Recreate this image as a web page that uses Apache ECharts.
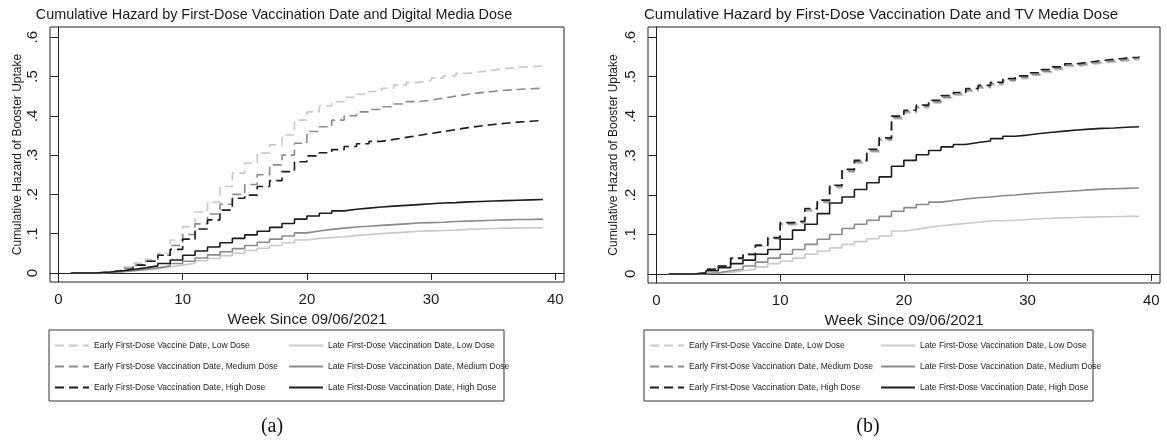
<!DOCTYPE html>
<html><head><meta charset="utf-8">
<script src="https://cdn.jsdelivr.net/npm/echarts@6/dist/echarts.min.js"></script>
<style>html,body{margin:0;padding:0;background:#fff}#c{width:1167px;height:440px}</style>
</head><body><div id="c"></div>
<script>
// ---- data ----
const weeks = [1,2,3,4,5,6,7,8,9,10,11,12,13,14,15,16,17,18,19,20,21,22,23,24,25,26,27,28,29,30,31,32,33,34,35,36,37,38,39];
const xTicks = [0,10,20,30,40];
const yTicks = [0,0.1,0.2,0.3,0.4,0.5,0.6];
const titleA = 'Cumulative Hazard by First-Dose Vaccination Date and Digital Media Dose';
const titleB = 'Cumulative Hazard by First-Dose Vaccination Date and TV Media Dose';
const xName = 'Week Since 09/06/2021';
const yName = 'Cumulative Hazard of Booster Uptake';
const names = [
  'Early First-Dose Vaccine Date, Low Dose',
  'Early First-Dose Vaccination Date, Medium Dose',
  'Early First-Dose Vaccination Date, High Dose',
  'Late First-Dose Vaccination Date, Low Dose',
  'Late First-Dose Vaccination Date, Medium Dose',
  'Late First-Dose Vaccination Date, High Dose'
];
// Panel (a): Digital media dose
const aEarlyLow  = [0,0,0.002,0.006,0.015,0.025,0.035,0.05,0.084,0.118,0.155,0.18,0.22,0.254,0.28,0.305,0.326,0.351,0.389,0.41,0.425,0.436,0.447,0.455,0.462,0.47,0.478,0.485,0.49,0.496,0.502,0.508,0.512,0.516,0.52,0.523,0.525,0.527,0.527];
const aEarlyMed  = [0,0,0.002,0.005,0.012,0.02,0.03,0.045,0.07,0.098,0.125,0.15,0.175,0.2,0.225,0.25,0.275,0.3,0.33,0.36,0.372,0.389,0.4,0.41,0.416,0.423,0.43,0.436,0.44,0.445,0.45,0.455,0.459,0.462,0.465,0.467,0.469,0.47,0.47];
const aEarlyHigh = [0,0,0.002,0.005,0.01,0.02,0.03,0.045,0.06,0.086,0.112,0.135,0.16,0.19,0.198,0.22,0.235,0.258,0.283,0.298,0.306,0.314,0.322,0.329,0.335,0.34,0.345,0.35,0.355,0.36,0.365,0.37,0.374,0.378,0.381,0.384,0.386,0.388,0.388];
const aLateLow   = [0,0,0.001,0.002,0.005,0.008,0.011,0.015,0.02,0.025,0.031,0.037,0.044,0.05,0.057,0.063,0.07,0.077,0.084,0.088,0.09,0.092,0.095,0.098,0.1,0.102,0.104,0.106,0.107,0.108,0.109,0.111,0.112,0.113,0.114,0.114,0.115,0.115,0.115];
const aLateMed   = [0,0,0.001,0.003,0.006,0.009,0.013,0.018,0.024,0.03,0.038,0.046,0.054,0.062,0.07,0.078,0.086,0.094,0.102,0.107,0.111,0.114,0.117,0.119,0.121,0.123,0.125,0.127,0.128,0.129,0.131,0.132,0.133,0.134,0.135,0.136,0.136,0.137,0.137];
const aLateHigh  = [0,0,0.002,0.005,0.009,0.013,0.018,0.024,0.033,0.045,0.056,0.066,0.077,0.088,0.097,0.106,0.116,0.126,0.137,0.145,0.152,0.158,0.162,0.165,0.168,0.17,0.172,0.174,0.176,0.178,0.179,0.181,0.182,0.183,0.184,0.185,0.186,0.187,0.187];
// Panel (b): TV media dose
const bEarlyLow  = [0,0,0.002,0.011,0.019,0.038,0.048,0.07,0.088,0.124,0.128,0.159,0.18,0.218,0.258,0.281,0.309,0.338,0.393,0.408,0.421,0.433,0.445,0.453,0.463,0.471,0.479,0.488,0.495,0.503,0.511,0.518,0.526,0.53,0.534,0.537,0.54,0.543,0.545];
const bEarlyMed  = [0,0,0.002,0.012,0.02,0.039,0.049,0.071,0.09,0.127,0.131,0.162,0.183,0.221,0.261,0.284,0.312,0.341,0.396,0.411,0.424,0.436,0.448,0.456,0.466,0.474,0.482,0.491,0.498,0.506,0.514,0.521,0.529,0.533,0.537,0.54,0.543,0.546,0.548];
const bEarlyHigh = [0,0,0.002,0.012,0.02,0.04,0.05,0.073,0.092,0.13,0.134,0.166,0.187,0.225,0.265,0.288,0.316,0.345,0.4,0.415,0.428,0.44,0.452,0.46,0.47,0.478,0.486,0.495,0.502,0.51,0.518,0.525,0.533,0.537,0.541,0.544,0.547,0.55,0.552];
const bLateLow   = [0,0,0.001,0.002,0.004,0.008,0.012,0.018,0.026,0.032,0.04,0.05,0.058,0.066,0.075,0.082,0.089,0.096,0.109,0.113,0.118,0.122,0.125,0.128,0.131,0.134,0.135,0.136,0.138,0.14,0.141,0.142,0.143,0.144,0.145,0.145,0.146,0.146,0.146];
const bLateMed   = [0,0,0.001,0.003,0.008,0.012,0.02,0.03,0.04,0.05,0.062,0.075,0.088,0.1,0.115,0.126,0.136,0.146,0.159,0.168,0.176,0.182,0.186,0.19,0.193,0.195,0.198,0.2,0.203,0.205,0.207,0.209,0.211,0.213,0.215,0.216,0.217,0.218,0.218];
const bLateHigh  = [0,0,0.002,0.008,0.016,0.026,0.035,0.05,0.062,0.088,0.111,0.126,0.153,0.18,0.195,0.214,0.231,0.246,0.273,0.288,0.302,0.313,0.322,0.328,0.333,0.337,0.343,0.349,0.352,0.356,0.359,0.362,0.365,0.367,0.369,0.37,0.372,0.373,0.373];

// ---- styles ----
const FONT = "'Liberation Sans', Arial, sans-serif";
const colors = ['#c9c9c9', '#8a8a8a', '#1c1c1c', '#c9c9c9', '#8a8a8a', '#1c1c1c'];
const dashed = [true, true, true, false, false, false];

function mk(data){ return weeks.map((w,i)=>[w, data[i]]); }

const panelData = [
  [aEarlyLow, aEarlyMed, aEarlyHigh, aLateLow, aLateMed, aLateHigh],
  [bEarlyLow, bEarlyMed, bEarlyHigh, bLateLow, bLateMed, bLateHigh]
];

const grids = [
  {left: 50, right: 603, top: 27, bottom: 158},
  {left: 648, right: 7, top: 27, bottom: 157}
];

function xAx(gi){
  return {
    type: 'value', gridIndex: gi, min: -0.68, max: 40.7,
    splitLine: {show: false},
    axisLine: {show: true, lineStyle: {color: '#222', width: 1}},
    axisTick: {show: true, customValues: xTicks, length: 7, lineStyle: {color: '#222'}},
    axisLabel: {customValues: xTicks, margin: 10, fontSize: 15, color: '#1a1a1a', fontFamily: FONT},
    name: xName, nameLocation: 'middle', nameGap: 25,
    nameTextStyle: {fontSize: 15, color: '#1a1a1a', fontFamily: FONT}
  };
}
function yAx(gi, gap){
  return {
    type: 'value', gridIndex: gi, min: -0.023, max: 0.626,
    splitLine: {show: false},
    axisLine: {show: true, lineStyle: {color: '#222', width: 1}},
    axisTick: {show: true, customValues: yTicks, length: 8, lineStyle: {color: '#222'}},
    axisLabel: {customValues: yTicks, rotate: 90, margin: 10, fontSize: 15, color: '#1a1a1a', fontFamily: FONT,
      formatter: v => v === 0 ? '0' : v.toFixed(1).replace(/^0/, '')},
    name: yName, nameLocation: 'middle', nameGap: gap,
    nameTextStyle: {fontSize: 12, color: '#1a1a1a', fontFamily: FONT}
  };
}

const series = [];
panelData.forEach((arrs, gi) => {
  arrs.forEach((d, k) => {
    series.push({
      type: 'line', name: names[k], xAxisIndex: gi, yAxisIndex: gi,
      data: mk(d), step: 'end', symbol: 'none', showSymbol: false,
      lineStyle: {color: colors[k], width: 1.6, type: dashed[k] ? [9, 5] : 'solid'},
      itemStyle: {color: colors[k]},
      z: 2 + k, silent: true, animation: false
    });
  });
});

function leg(left, items){
  return {
    left: left, top: 341, orient: 'vertical', padding: 0,
    itemWidth: 34, itemHeight: 10, itemGap: 12, selectedMode: false,
    itemStyle: {opacity: 0, borderWidth: 0},
    textStyle: {fontSize: 8.5, color: '#222', fontFamily: FONT},
    data: items
  };
}

const chart = echarts.init(document.getElementById('c'), null, {renderer: 'canvas'});
chart.setOption({
  backgroundColor: '#fff',
  animation: false,
  grid: grids.map(g => Object.assign({show: true, borderColor: '#222', borderWidth: 1, backgroundColor: 'transparent'}, g)),
  xAxis: [xAx(0), xAx(1)],
  yAxis: [yAx(0, 26), yAx(1, 28)],
  legend: [
    leg(54, [names[0], names[1], names[2]]),
    leg(288, [names[3], names[4], names[5]]),
    leg(649, [names[0], names[1], names[2]]),
    leg(880, [names[3], names[4], names[5]])
  ],
  graphic: [
    {type: 'rect', shape: {x: 49, y: 330, width: 455, height: 71}, style: {fill: 'none', stroke: '#333', lineWidth: 1}},
    {type: 'rect', shape: {x: 644, y: 330, width: 449, height: 71}, style: {fill: 'none', stroke: '#333', lineWidth: 1}},
    {type: 'text', x: 274, y: 15, style: {text: titleA, textAlign: 'center', textVerticalAlign: 'middle', font: "14.4px 'Liberation Sans', Arial", fill: '#1a1a1a'}},
    {type: 'text', x: 881, y: 15, style: {text: titleB, textAlign: 'center', textVerticalAlign: 'middle', font: "15px 'Liberation Sans', Arial", fill: '#1a1a1a'}},
    {type: 'text', x: 272, y: 427, style: {text: '(a)', textAlign: 'center', textVerticalAlign: 'middle', font: "20px 'Liberation Serif', 'Times New Roman', serif", fill: '#111'}},
    {type: 'text', x: 868, y: 427, style: {text: '(b)', textAlign: 'center', textVerticalAlign: 'middle', font: "20px 'Liberation Serif', 'Times New Roman', serif", fill: '#111'}}
  ],
  series: series
});
</script>
</body></html>
